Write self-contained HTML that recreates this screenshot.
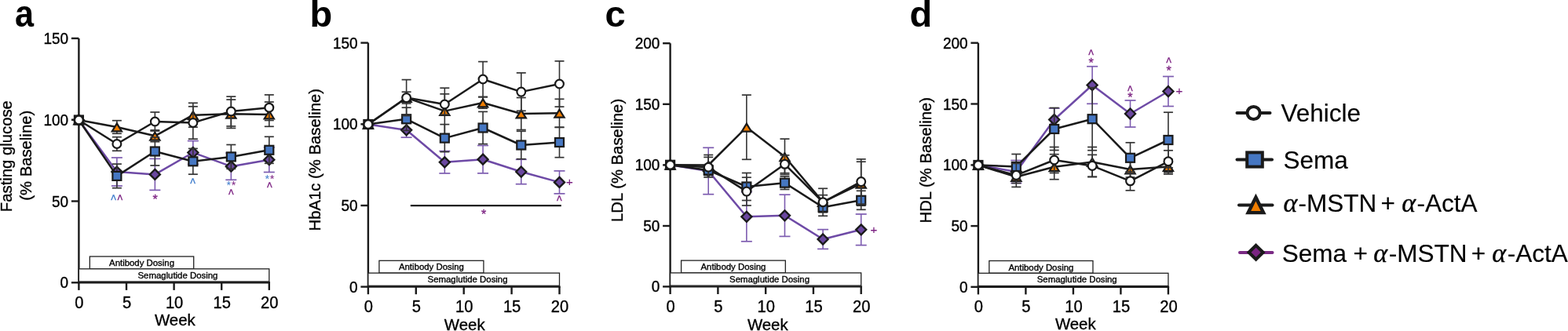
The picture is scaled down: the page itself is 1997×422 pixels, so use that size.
<!DOCTYPE html>
<html><head><meta charset="utf-8"><title>Figure</title>
<style>
html,body{margin:0;padding:0;background:#fff;}
body{width:1997px;height:422px;overflow:hidden;}
svg{display:block;}
text{font-family:"Liberation Sans", Arial, Helvetica, sans-serif;}
text.k{stroke:#000;stroke-width:0.35px;}
text.k2{stroke:#000;stroke-width:0.15px;}
</style></head><body>
<svg width="1997" height="422" viewBox="0 0 1997 422">
<rect width="1997" height="422" fill="#fff"/>
<g fill="#000">
<line x1="100.4" y1="48.9" x2="100.4" y2="360.3" stroke="#1a1a1a" stroke-width="2.4"/>
<line x1="90.9" y1="48.9" x2="100.4" y2="48.9" stroke="#1a1a1a" stroke-width="2.4"/>
<text class="k" transform="translate(87.1,55.9) scale(1,1.07)" text-anchor="end" font-size="19">150</text>
<line x1="90.9" y1="152.7" x2="100.4" y2="152.7" stroke="#1a1a1a" stroke-width="2.4"/>
<text class="k" transform="translate(87.1,159.7) scale(1,1.07)" text-anchor="end" font-size="19">100</text>
<line x1="90.9" y1="256.5" x2="100.4" y2="256.5" stroke="#1a1a1a" stroke-width="2.4"/>
<text class="k" transform="translate(87.1,263.5) scale(1,1.07)" text-anchor="end" font-size="19">50</text>
<line x1="90.9" y1="360.3" x2="100.4" y2="360.3" stroke="#1a1a1a" stroke-width="2.4"/>
<text class="k" transform="translate(87.1,367.3) scale(1,1.07)" text-anchor="end" font-size="19">0</text>
<line x1="99.2" y1="360.3" x2="344" y2="360.3" stroke="#1a1a1a" stroke-width="2.4"/>
<line x1="100.4" y1="360.3" x2="100.4" y2="369.9" stroke="#1a1a1a" stroke-width="2.4"/>
<text class="k" transform="translate(100.9,392.6) scale(0.96,1.08)" text-anchor="middle" font-size="21">0</text>
<line x1="161.0" y1="360.3" x2="161.0" y2="369.9" stroke="#1a1a1a" stroke-width="2.4"/>
<text class="k" transform="translate(161.5,392.6) scale(0.96,1.08)" text-anchor="middle" font-size="21">5</text>
<line x1="221.6" y1="360.3" x2="221.6" y2="369.9" stroke="#1a1a1a" stroke-width="2.4"/>
<text class="k" transform="translate(222.1,392.6) scale(0.96,1.08)" text-anchor="middle" font-size="21">10</text>
<line x1="282.2" y1="360.3" x2="282.2" y2="369.9" stroke="#1a1a1a" stroke-width="2.4"/>
<text class="k" transform="translate(282.7,392.6) scale(0.96,1.08)" text-anchor="middle" font-size="21">15</text>
<line x1="342.8" y1="360.3" x2="342.8" y2="369.9" stroke="#1a1a1a" stroke-width="2.4"/>
<text class="k" transform="translate(343.3,392.6) scale(0.96,1.08)" text-anchor="middle" font-size="21">20</text>
<text class="k" x="222.85" y="415.1" text-anchor="middle" font-size="20.4">Week</text>
<rect x="114.34" y="327.0" width="132.35" height="15.8" fill="#fff" stroke="#222" stroke-width="1.3"/>
<rect x="100.4" y="342.8" width="242.4" height="16.2" fill="#fff" stroke="#222" stroke-width="1.3"/>
<text class="k" x="180.51" y="339.0" text-anchor="middle" font-size="11.4">Antibody Dosing</text>
<text class="k" x="226.45" y="354.6" text-anchor="middle" font-size="11.4">Semaglutide Dosing</text>
<text transform="translate(19.0,34.4) scale(0.9,1)" font-size="48" font-weight="bold">a</text>
<line x1="468.9" y1="54.6" x2="468.9" y2="365.6" stroke="#1a1a1a" stroke-width="2.4"/>
<line x1="459.4" y1="54.6" x2="468.9" y2="54.6" stroke="#1a1a1a" stroke-width="2.4"/>
<text class="k" transform="translate(455.6,61.6) scale(1,1.07)" text-anchor="end" font-size="19">150</text>
<line x1="459.4" y1="158.3" x2="468.9" y2="158.3" stroke="#1a1a1a" stroke-width="2.4"/>
<text class="k" transform="translate(455.6,165.3) scale(1,1.07)" text-anchor="end" font-size="19">100</text>
<line x1="459.4" y1="262.0" x2="468.9" y2="262.0" stroke="#1a1a1a" stroke-width="2.4"/>
<text class="k" transform="translate(455.6,269.0) scale(1,1.07)" text-anchor="end" font-size="19">50</text>
<line x1="459.4" y1="365.6" x2="468.9" y2="365.6" stroke="#1a1a1a" stroke-width="2.4"/>
<text class="k" transform="translate(455.6,372.6) scale(1,1.07)" text-anchor="end" font-size="19">0</text>
<line x1="467.7" y1="365.6" x2="713.7" y2="365.6" stroke="#1a1a1a" stroke-width="2.4"/>
<line x1="468.9" y1="365.6" x2="468.9" y2="375.2" stroke="#1a1a1a" stroke-width="2.4"/>
<text class="k" transform="translate(469.4,397.9) scale(0.96,1.08)" text-anchor="middle" font-size="21">0</text>
<line x1="529.8" y1="365.6" x2="529.8" y2="375.2" stroke="#1a1a1a" stroke-width="2.4"/>
<text class="k" transform="translate(530.3,397.9) scale(0.96,1.08)" text-anchor="middle" font-size="21">5</text>
<line x1="590.7" y1="365.6" x2="590.7" y2="375.2" stroke="#1a1a1a" stroke-width="2.4"/>
<text class="k" transform="translate(591.2,397.9) scale(0.96,1.08)" text-anchor="middle" font-size="21">10</text>
<line x1="651.6" y1="365.6" x2="651.6" y2="375.2" stroke="#1a1a1a" stroke-width="2.4"/>
<text class="k" transform="translate(652.1,397.9) scale(0.96,1.08)" text-anchor="middle" font-size="21">15</text>
<line x1="712.5" y1="365.6" x2="712.5" y2="375.2" stroke="#1a1a1a" stroke-width="2.4"/>
<text class="k" transform="translate(713.0,397.9) scale(0.96,1.08)" text-anchor="middle" font-size="21">20</text>
<text class="k" x="591.75" y="421.0" text-anchor="middle" font-size="20.4">Week</text>
<rect x="482.91" y="332.3" width="133.01" height="15.8" fill="#fff" stroke="#222" stroke-width="1.3"/>
<rect x="468.9" y="348.1" width="243.6" height="16.2" fill="#fff" stroke="#222" stroke-width="1.3"/>
<text class="k" x="549.41" y="344.3" text-anchor="middle" font-size="11.4">Antibody Dosing</text>
<text class="k" x="595.57" y="359.9" text-anchor="middle" font-size="11.4">Semaglutide Dosing</text>
<text x="394.5" y="34.4" font-size="47" font-weight="bold">b</text>
<line x1="853.6" y1="55.2" x2="853.6" y2="365.4" stroke="#1a1a1a" stroke-width="2.4"/>
<line x1="844.1" y1="55.2" x2="853.6" y2="55.2" stroke="#1a1a1a" stroke-width="2.4"/>
<text class="k" transform="translate(840.3,62.2) scale(1,1.07)" text-anchor="end" font-size="19">200</text>
<line x1="844.1" y1="132.8" x2="853.6" y2="132.8" stroke="#1a1a1a" stroke-width="2.4"/>
<text class="k" transform="translate(840.3,139.8) scale(1,1.07)" text-anchor="end" font-size="19">150</text>
<line x1="844.1" y1="210.4" x2="853.6" y2="210.4" stroke="#1a1a1a" stroke-width="2.4"/>
<text class="k" transform="translate(840.3,217.4) scale(1,1.07)" text-anchor="end" font-size="19">100</text>
<line x1="844.1" y1="288.0" x2="853.6" y2="288.0" stroke="#1a1a1a" stroke-width="2.4"/>
<text class="k" transform="translate(840.3,295.0) scale(1,1.07)" text-anchor="end" font-size="19">50</text>
<line x1="844.1" y1="365.4" x2="853.6" y2="365.4" stroke="#1a1a1a" stroke-width="2.4"/>
<text class="k" transform="translate(840.3,372.4) scale(1,1.07)" text-anchor="end" font-size="19">0</text>
<line x1="852.4" y1="365.4" x2="1097.9" y2="365.4" stroke="#1a1a1a" stroke-width="2.4"/>
<line x1="853.6" y1="365.4" x2="853.6" y2="375.0" stroke="#1a1a1a" stroke-width="2.4"/>
<text class="k" transform="translate(854.1,397.7) scale(0.96,1.08)" text-anchor="middle" font-size="21">0</text>
<line x1="914.38" y1="365.4" x2="914.38" y2="375.0" stroke="#1a1a1a" stroke-width="2.4"/>
<text class="k" transform="translate(914.88,397.7) scale(0.96,1.08)" text-anchor="middle" font-size="21">5</text>
<line x1="975.15" y1="365.4" x2="975.15" y2="375.0" stroke="#1a1a1a" stroke-width="2.4"/>
<text class="k" transform="translate(975.65,397.7) scale(0.96,1.08)" text-anchor="middle" font-size="21">10</text>
<line x1="1035.92" y1="365.4" x2="1035.92" y2="375.0" stroke="#1a1a1a" stroke-width="2.4"/>
<text class="k" transform="translate(1036.42,397.7) scale(0.96,1.08)" text-anchor="middle" font-size="21">15</text>
<line x1="1096.7" y1="365.4" x2="1096.7" y2="375.0" stroke="#1a1a1a" stroke-width="2.4"/>
<text class="k" transform="translate(1097.2,397.7) scale(0.96,1.08)" text-anchor="middle" font-size="21">20</text>
<text class="k" x="977.8" y="421.0" text-anchor="middle" font-size="20.4">Week</text>
<rect x="867.58" y="332.1" width="132.73" height="15.8" fill="#fff" stroke="#222" stroke-width="1.3"/>
<rect x="853.6" y="347.9" width="243.1" height="16.2" fill="#fff" stroke="#222" stroke-width="1.3"/>
<text class="k" x="933.94" y="344.1" text-anchor="middle" font-size="11.4">Antibody Dosing</text>
<text class="k" x="980.01" y="359.7" text-anchor="middle" font-size="11.4">Semaglutide Dosing</text>
<text x="770.6" y="34.4" font-size="47" font-weight="bold">c</text>
<line x1="1245.9" y1="54.7" x2="1245.9" y2="365.8" stroke="#1a1a1a" stroke-width="2.4"/>
<line x1="1236.4" y1="54.7" x2="1245.9" y2="54.7" stroke="#1a1a1a" stroke-width="2.4"/>
<text class="k" transform="translate(1232.6,61.7) scale(1,1.07)" text-anchor="end" font-size="19">200</text>
<line x1="1236.4" y1="132.5" x2="1245.9" y2="132.5" stroke="#1a1a1a" stroke-width="2.4"/>
<text class="k" transform="translate(1232.6,139.5) scale(1,1.07)" text-anchor="end" font-size="19">150</text>
<line x1="1236.4" y1="210.4" x2="1245.9" y2="210.4" stroke="#1a1a1a" stroke-width="2.4"/>
<text class="k" transform="translate(1232.6,217.4) scale(1,1.07)" text-anchor="end" font-size="19">100</text>
<line x1="1236.4" y1="288.1" x2="1245.9" y2="288.1" stroke="#1a1a1a" stroke-width="2.4"/>
<text class="k" transform="translate(1232.6,295.1) scale(1,1.07)" text-anchor="end" font-size="19">50</text>
<line x1="1236.4" y1="365.8" x2="1245.9" y2="365.8" stroke="#1a1a1a" stroke-width="2.4"/>
<text class="k" transform="translate(1232.6,372.8) scale(1,1.07)" text-anchor="end" font-size="19">0</text>
<line x1="1244.7" y1="365.8" x2="1489.1" y2="365.8" stroke="#1a1a1a" stroke-width="2.4"/>
<line x1="1245.9" y1="365.8" x2="1245.9" y2="375.4" stroke="#1a1a1a" stroke-width="2.4"/>
<text class="k" transform="translate(1246.4,398.1) scale(0.96,1.08)" text-anchor="middle" font-size="21">0</text>
<line x1="1306.4" y1="365.8" x2="1306.4" y2="375.4" stroke="#1a1a1a" stroke-width="2.4"/>
<text class="k" transform="translate(1306.9,398.1) scale(0.96,1.08)" text-anchor="middle" font-size="21">5</text>
<line x1="1366.9" y1="365.8" x2="1366.9" y2="375.4" stroke="#1a1a1a" stroke-width="2.4"/>
<text class="k" transform="translate(1367.4,398.1) scale(0.96,1.08)" text-anchor="middle" font-size="21">10</text>
<line x1="1427.4" y1="365.8" x2="1427.4" y2="375.4" stroke="#1a1a1a" stroke-width="2.4"/>
<text class="k" transform="translate(1427.9,398.1) scale(0.96,1.08)" text-anchor="middle" font-size="21">15</text>
<line x1="1487.9" y1="365.8" x2="1487.9" y2="375.4" stroke="#1a1a1a" stroke-width="2.4"/>
<text class="k" transform="translate(1488.4,398.1) scale(0.96,1.08)" text-anchor="middle" font-size="21">20</text>
<text class="k" x="1369.8" y="420.2" text-anchor="middle" font-size="20.4">Week</text>
<rect x="1259.82" y="332.5" width="132.13" height="15.8" fill="#fff" stroke="#222" stroke-width="1.3"/>
<rect x="1245.9" y="348.3" width="242.0" height="16.2" fill="#fff" stroke="#222" stroke-width="1.3"/>
<text class="k" x="1325.88" y="344.5" text-anchor="middle" font-size="11.4">Antibody Dosing</text>
<text class="k" x="1371.74" y="360.1" text-anchor="middle" font-size="11.4">Semaglutide Dosing</text>
<text x="1158.4" y="34.4" font-size="47" font-weight="bold">d</text>
<line x1="148.88" y1="201.00" x2="148.88" y2="237.00" stroke="#7d5cb0" stroke-width="1.6"/>
<line x1="141.88" y1="201.00" x2="155.88" y2="201.00" stroke="#7d5cb0" stroke-width="1.7"/>
<line x1="141.88" y1="237.00" x2="155.88" y2="237.00" stroke="#7d5cb0" stroke-width="1.7"/>
<line x1="197.36" y1="202.40" x2="197.36" y2="242.40" stroke="#7d5cb0" stroke-width="1.6"/>
<line x1="190.36" y1="202.40" x2="204.36" y2="202.40" stroke="#7d5cb0" stroke-width="1.7"/>
<line x1="190.36" y1="242.40" x2="204.36" y2="242.40" stroke="#7d5cb0" stroke-width="1.7"/>
<line x1="245.84" y1="179.60" x2="245.84" y2="209.40" stroke="#7d5cb0" stroke-width="1.6"/>
<line x1="238.84" y1="179.60" x2="252.84" y2="179.60" stroke="#7d5cb0" stroke-width="1.7"/>
<line x1="238.84" y1="209.40" x2="252.84" y2="209.40" stroke="#7d5cb0" stroke-width="1.7"/>
<line x1="294.32" y1="195.10" x2="294.32" y2="229.30" stroke="#7d5cb0" stroke-width="1.6"/>
<line x1="287.32" y1="195.10" x2="301.32" y2="195.10" stroke="#7d5cb0" stroke-width="1.7"/>
<line x1="287.32" y1="229.30" x2="301.32" y2="229.30" stroke="#7d5cb0" stroke-width="1.7"/>
<line x1="342.80" y1="187.90" x2="342.80" y2="219.50" stroke="#7d5cb0" stroke-width="1.6"/>
<line x1="335.80" y1="187.90" x2="349.80" y2="187.90" stroke="#7d5cb0" stroke-width="1.7"/>
<line x1="335.80" y1="219.50" x2="349.80" y2="219.50" stroke="#7d5cb0" stroke-width="1.7"/>
<polyline points="100.40,153.00 148.88,219.00 197.36,222.40 245.84,194.50 294.32,212.20 342.80,203.70" fill="none" stroke="#6e4aa6" stroke-width="2.5" stroke-linejoin="round"/>
<polygon points="100.40,146.50 106.90,153.00 100.40,159.50 93.90,153.00" fill="#6b48a0" stroke="#1a1a1a" stroke-width="2.35"/>
<polygon points="148.88,212.50 155.38,219.00 148.88,225.50 142.38,219.00" fill="#6b48a0" stroke="#1a1a1a" stroke-width="2.35"/>
<polygon points="197.36,215.90 203.86,222.40 197.36,228.90 190.86,222.40" fill="#6b48a0" stroke="#1a1a1a" stroke-width="2.35"/>
<polygon points="245.84,188.00 252.34,194.50 245.84,201.00 239.34,194.50" fill="#6b48a0" stroke="#1a1a1a" stroke-width="2.35"/>
<polygon points="294.32,205.70 300.82,212.20 294.32,218.70 287.82,212.20" fill="#6b48a0" stroke="#1a1a1a" stroke-width="2.35"/>
<polygon points="342.80,197.20 349.30,203.70 342.80,210.20 336.30,203.70" fill="#6b48a0" stroke="#1a1a1a" stroke-width="2.35"/>
<line x1="148.88" y1="153.70" x2="148.88" y2="170.30" stroke="#333" stroke-width="1.6"/>
<line x1="142.88" y1="153.70" x2="154.88" y2="153.70" stroke="#333" stroke-width="1.7"/>
<line x1="142.88" y1="170.30" x2="154.88" y2="170.30" stroke="#333" stroke-width="1.7"/>
<line x1="197.36" y1="165.90" x2="197.36" y2="180.70" stroke="#333" stroke-width="1.6"/>
<line x1="191.36" y1="165.90" x2="203.36" y2="165.90" stroke="#333" stroke-width="1.7"/>
<line x1="191.36" y1="180.70" x2="203.36" y2="180.70" stroke="#333" stroke-width="1.7"/>
<line x1="245.84" y1="131.30" x2="245.84" y2="162.10" stroke="#333" stroke-width="1.6"/>
<line x1="239.84" y1="131.30" x2="251.84" y2="131.30" stroke="#333" stroke-width="1.7"/>
<line x1="239.84" y1="162.10" x2="251.84" y2="162.10" stroke="#333" stroke-width="1.7"/>
<line x1="294.32" y1="127.00" x2="294.32" y2="163.40" stroke="#333" stroke-width="1.6"/>
<line x1="288.32" y1="127.00" x2="300.32" y2="127.00" stroke="#333" stroke-width="1.7"/>
<line x1="288.32" y1="163.40" x2="300.32" y2="163.40" stroke="#333" stroke-width="1.7"/>
<line x1="342.80" y1="130.00" x2="342.80" y2="161.30" stroke="#333" stroke-width="1.6"/>
<line x1="336.80" y1="130.00" x2="348.80" y2="130.00" stroke="#333" stroke-width="1.7"/>
<line x1="336.80" y1="161.30" x2="348.80" y2="161.30" stroke="#333" stroke-width="1.7"/>
<polyline points="100.40,153.00 148.88,162.00 197.36,173.30 245.84,146.70 294.32,145.20 342.80,145.90" fill="none" stroke="#1a1a1a" stroke-width="2.5" stroke-linejoin="round"/>
<polygon points="100.40,148.40 106.50,158.40 94.30,158.40" fill="#ef7d00" stroke="#1a1a1a" stroke-width="2.20" stroke-linejoin="miter"/>
<polygon points="148.88,157.40 154.98,167.40 142.78,167.40" fill="#ef7d00" stroke="#1a1a1a" stroke-width="2.20" stroke-linejoin="miter"/>
<polygon points="197.36,168.70 203.46,178.70 191.26,178.70" fill="#ef7d00" stroke="#1a1a1a" stroke-width="2.20" stroke-linejoin="miter"/>
<polygon points="245.84,142.10 251.94,152.10 239.74,152.10" fill="#ef7d00" stroke="#1a1a1a" stroke-width="2.20" stroke-linejoin="miter"/>
<polygon points="294.32,140.60 300.42,150.60 288.22,150.60" fill="#ef7d00" stroke="#1a1a1a" stroke-width="2.20" stroke-linejoin="miter"/>
<polygon points="342.80,141.30 348.90,151.30 336.70,151.30" fill="#ef7d00" stroke="#1a1a1a" stroke-width="2.20" stroke-linejoin="miter"/>
<line x1="148.88" y1="209.10" x2="148.88" y2="239.70" stroke="#333" stroke-width="1.6"/>
<line x1="142.88" y1="209.10" x2="154.88" y2="209.10" stroke="#333" stroke-width="1.7"/>
<line x1="142.88" y1="239.70" x2="154.88" y2="239.70" stroke="#333" stroke-width="1.7"/>
<line x1="197.36" y1="175.00" x2="197.36" y2="211.00" stroke="#333" stroke-width="1.6"/>
<line x1="191.36" y1="175.00" x2="203.36" y2="175.00" stroke="#333" stroke-width="1.7"/>
<line x1="191.36" y1="211.00" x2="203.36" y2="211.00" stroke="#333" stroke-width="1.7"/>
<line x1="245.84" y1="189.40" x2="245.84" y2="222.20" stroke="#333" stroke-width="1.6"/>
<line x1="239.84" y1="189.40" x2="251.84" y2="189.40" stroke="#333" stroke-width="1.7"/>
<line x1="239.84" y1="222.20" x2="251.84" y2="222.20" stroke="#333" stroke-width="1.7"/>
<line x1="294.32" y1="184.50" x2="294.32" y2="215.30" stroke="#333" stroke-width="1.6"/>
<line x1="288.32" y1="184.50" x2="300.32" y2="184.50" stroke="#333" stroke-width="1.7"/>
<line x1="288.32" y1="215.30" x2="300.32" y2="215.30" stroke="#333" stroke-width="1.7"/>
<line x1="342.80" y1="174.30" x2="342.80" y2="208.30" stroke="#333" stroke-width="1.6"/>
<line x1="336.80" y1="174.30" x2="348.80" y2="174.30" stroke="#333" stroke-width="1.7"/>
<line x1="336.80" y1="208.30" x2="348.80" y2="208.30" stroke="#333" stroke-width="1.7"/>
<polyline points="100.40,153.00 148.88,224.40 197.36,193.00 245.84,205.80 294.32,199.90 342.80,191.30" fill="none" stroke="#1a1a1a" stroke-width="2.5" stroke-linejoin="round"/>
<rect x="94.90" y="147.50" width="11.00" height="11.00" fill="#4677c2" stroke="#1a1a1a" stroke-width="2.20"/>
<rect x="143.38" y="218.90" width="11.00" height="11.00" fill="#4677c2" stroke="#1a1a1a" stroke-width="2.20"/>
<rect x="191.86" y="187.50" width="11.00" height="11.00" fill="#4677c2" stroke="#1a1a1a" stroke-width="2.20"/>
<rect x="240.34" y="200.30" width="11.00" height="11.00" fill="#4677c2" stroke="#1a1a1a" stroke-width="2.20"/>
<rect x="288.82" y="194.40" width="11.00" height="11.00" fill="#4677c2" stroke="#1a1a1a" stroke-width="2.20"/>
<rect x="337.30" y="185.80" width="11.00" height="11.00" fill="#4677c2" stroke="#1a1a1a" stroke-width="2.20"/>
<line x1="148.88" y1="174.70" x2="148.88" y2="192.30" stroke="#333" stroke-width="1.6"/>
<line x1="142.88" y1="174.70" x2="154.88" y2="174.70" stroke="#333" stroke-width="1.7"/>
<line x1="142.88" y1="192.30" x2="154.88" y2="192.30" stroke="#333" stroke-width="1.7"/>
<line x1="197.36" y1="143.00" x2="197.36" y2="167.00" stroke="#333" stroke-width="1.6"/>
<line x1="191.36" y1="143.00" x2="203.36" y2="143.00" stroke="#333" stroke-width="1.7"/>
<line x1="191.36" y1="167.00" x2="203.36" y2="167.00" stroke="#333" stroke-width="1.7"/>
<line x1="245.84" y1="135.80" x2="245.84" y2="177.20" stroke="#333" stroke-width="1.6"/>
<line x1="239.84" y1="135.80" x2="251.84" y2="135.80" stroke="#333" stroke-width="1.7"/>
<line x1="239.84" y1="177.20" x2="251.84" y2="177.20" stroke="#333" stroke-width="1.7"/>
<line x1="294.32" y1="123.10" x2="294.32" y2="160.90" stroke="#333" stroke-width="1.6"/>
<line x1="288.32" y1="123.10" x2="300.32" y2="123.10" stroke="#333" stroke-width="1.7"/>
<line x1="288.32" y1="160.90" x2="300.32" y2="160.90" stroke="#333" stroke-width="1.7"/>
<line x1="342.80" y1="120.90" x2="342.80" y2="153.50" stroke="#333" stroke-width="1.6"/>
<line x1="336.80" y1="120.90" x2="348.80" y2="120.90" stroke="#333" stroke-width="1.7"/>
<line x1="336.80" y1="153.50" x2="348.80" y2="153.50" stroke="#333" stroke-width="1.7"/>
<polyline points="100.40,153.00 148.88,183.50 197.36,155.00 245.84,156.50 294.32,142.00 342.80,137.20" fill="none" stroke="#1a1a1a" stroke-width="2.5" stroke-linejoin="round"/>
<circle cx="100.40" cy="153.00" r="5.40" fill="#fff" stroke="#1a1a1a" stroke-width="2.20"/>
<circle cx="148.88" cy="183.50" r="5.40" fill="#fff" stroke="#1a1a1a" stroke-width="2.20"/>
<circle cx="197.36" cy="155.00" r="5.40" fill="#fff" stroke="#1a1a1a" stroke-width="2.20"/>
<circle cx="245.84" cy="156.50" r="5.40" fill="#fff" stroke="#1a1a1a" stroke-width="2.20"/>
<circle cx="294.32" cy="142.00" r="5.40" fill="#fff" stroke="#1a1a1a" stroke-width="2.20"/>
<circle cx="342.80" cy="137.20" r="5.40" fill="#fff" stroke="#1a1a1a" stroke-width="2.20"/>
<line x1="517.62" y1="156.40" x2="517.62" y2="175.20" stroke="#7d5cb0" stroke-width="1.6"/>
<line x1="510.62" y1="156.40" x2="524.62" y2="156.40" stroke="#7d5cb0" stroke-width="1.7"/>
<line x1="510.62" y1="175.20" x2="524.62" y2="175.20" stroke="#7d5cb0" stroke-width="1.7"/>
<line x1="566.34" y1="192.60" x2="566.34" y2="221.00" stroke="#7d5cb0" stroke-width="1.6"/>
<line x1="559.34" y1="192.60" x2="573.34" y2="192.60" stroke="#7d5cb0" stroke-width="1.7"/>
<line x1="559.34" y1="221.00" x2="573.34" y2="221.00" stroke="#7d5cb0" stroke-width="1.7"/>
<line x1="615.06" y1="185.50" x2="615.06" y2="220.90" stroke="#7d5cb0" stroke-width="1.6"/>
<line x1="608.06" y1="185.50" x2="622.06" y2="185.50" stroke="#7d5cb0" stroke-width="1.7"/>
<line x1="608.06" y1="220.90" x2="622.06" y2="220.90" stroke="#7d5cb0" stroke-width="1.7"/>
<line x1="663.78" y1="203.30" x2="663.78" y2="234.70" stroke="#7d5cb0" stroke-width="1.6"/>
<line x1="656.78" y1="203.30" x2="670.78" y2="203.30" stroke="#7d5cb0" stroke-width="1.7"/>
<line x1="656.78" y1="234.70" x2="670.78" y2="234.70" stroke="#7d5cb0" stroke-width="1.7"/>
<line x1="712.50" y1="217.90" x2="712.50" y2="246.90" stroke="#7d5cb0" stroke-width="1.6"/>
<line x1="705.50" y1="217.90" x2="719.50" y2="217.90" stroke="#7d5cb0" stroke-width="1.7"/>
<line x1="705.50" y1="246.90" x2="719.50" y2="246.90" stroke="#7d5cb0" stroke-width="1.7"/>
<polyline points="468.90,158.50 517.62,165.80 566.34,206.80 615.06,203.20 663.78,219.00 712.50,232.40" fill="none" stroke="#6e4aa6" stroke-width="2.5" stroke-linejoin="round"/>
<polygon points="468.90,152.00 475.40,158.50 468.90,165.00 462.40,158.50" fill="#6b48a0" stroke="#1a1a1a" stroke-width="2.35"/>
<polygon points="517.62,159.30 524.12,165.80 517.62,172.30 511.12,165.80" fill="#6b48a0" stroke="#1a1a1a" stroke-width="2.35"/>
<polygon points="566.34,200.30 572.84,206.80 566.34,213.30 559.84,206.80" fill="#6b48a0" stroke="#1a1a1a" stroke-width="2.35"/>
<polygon points="615.06,196.70 621.56,203.20 615.06,209.70 608.56,203.20" fill="#6b48a0" stroke="#1a1a1a" stroke-width="2.35"/>
<polygon points="663.78,212.50 670.28,219.00 663.78,225.50 657.28,219.00" fill="#6b48a0" stroke="#1a1a1a" stroke-width="2.35"/>
<polygon points="712.50,225.90 719.00,232.40 712.50,238.90 706.00,232.40" fill="#6b48a0" stroke="#1a1a1a" stroke-width="2.35"/>
<line x1="517.62" y1="117.20" x2="517.62" y2="132.00" stroke="#333" stroke-width="1.6"/>
<line x1="511.62" y1="117.20" x2="523.62" y2="117.20" stroke="#333" stroke-width="1.7"/>
<line x1="511.62" y1="132.00" x2="523.62" y2="132.00" stroke="#333" stroke-width="1.7"/>
<line x1="566.34" y1="112.20" x2="566.34" y2="171.00" stroke="#333" stroke-width="1.6"/>
<line x1="560.34" y1="112.20" x2="572.34" y2="112.20" stroke="#333" stroke-width="1.7"/>
<line x1="560.34" y1="171.00" x2="572.34" y2="171.00" stroke="#333" stroke-width="1.7"/>
<line x1="615.06" y1="123.80" x2="615.06" y2="138.20" stroke="#333" stroke-width="1.6"/>
<line x1="609.06" y1="123.80" x2="621.06" y2="123.80" stroke="#333" stroke-width="1.7"/>
<line x1="609.06" y1="138.20" x2="621.06" y2="138.20" stroke="#333" stroke-width="1.7"/>
<line x1="663.78" y1="124.50" x2="663.78" y2="165.50" stroke="#333" stroke-width="1.6"/>
<line x1="657.78" y1="124.50" x2="669.78" y2="124.50" stroke="#333" stroke-width="1.7"/>
<line x1="657.78" y1="165.50" x2="669.78" y2="165.50" stroke="#333" stroke-width="1.7"/>
<line x1="712.50" y1="126.30" x2="712.50" y2="162.30" stroke="#333" stroke-width="1.6"/>
<line x1="706.50" y1="126.30" x2="718.50" y2="126.30" stroke="#333" stroke-width="1.7"/>
<line x1="706.50" y1="162.30" x2="718.50" y2="162.30" stroke="#333" stroke-width="1.7"/>
<polyline points="468.90,158.50 517.62,124.60 566.34,141.60 615.06,131.00 663.78,145.00 712.50,144.30" fill="none" stroke="#1a1a1a" stroke-width="2.5" stroke-linejoin="round"/>
<polygon points="468.90,153.90 475.00,163.90 462.80,163.90" fill="#ef7d00" stroke="#1a1a1a" stroke-width="2.20" stroke-linejoin="miter"/>
<polygon points="517.62,120.00 523.72,130.00 511.52,130.00" fill="#ef7d00" stroke="#1a1a1a" stroke-width="2.20" stroke-linejoin="miter"/>
<polygon points="566.34,137.00 572.44,147.00 560.24,147.00" fill="#ef7d00" stroke="#1a1a1a" stroke-width="2.20" stroke-linejoin="miter"/>
<polygon points="615.06,126.40 621.16,136.40 608.96,136.40" fill="#ef7d00" stroke="#1a1a1a" stroke-width="2.20" stroke-linejoin="miter"/>
<polygon points="663.78,140.40 669.88,150.40 657.68,150.40" fill="#ef7d00" stroke="#1a1a1a" stroke-width="2.20" stroke-linejoin="miter"/>
<polygon points="712.50,139.70 718.60,149.70 706.40,149.70" fill="#ef7d00" stroke="#1a1a1a" stroke-width="2.20" stroke-linejoin="miter"/>
<line x1="517.62" y1="137.20" x2="517.62" y2="166.40" stroke="#333" stroke-width="1.6"/>
<line x1="511.62" y1="137.20" x2="523.62" y2="137.20" stroke="#333" stroke-width="1.7"/>
<line x1="511.62" y1="166.40" x2="523.62" y2="166.40" stroke="#333" stroke-width="1.7"/>
<line x1="566.34" y1="158.60" x2="566.34" y2="193.60" stroke="#333" stroke-width="1.6"/>
<line x1="560.34" y1="158.60" x2="572.34" y2="158.60" stroke="#333" stroke-width="1.7"/>
<line x1="560.34" y1="193.60" x2="572.34" y2="193.60" stroke="#333" stroke-width="1.7"/>
<line x1="615.06" y1="142.40" x2="615.06" y2="183.60" stroke="#333" stroke-width="1.6"/>
<line x1="609.06" y1="142.40" x2="621.06" y2="142.40" stroke="#333" stroke-width="1.7"/>
<line x1="609.06" y1="183.60" x2="621.06" y2="183.60" stroke="#333" stroke-width="1.7"/>
<line x1="663.78" y1="167.30" x2="663.78" y2="202.70" stroke="#333" stroke-width="1.6"/>
<line x1="657.78" y1="167.30" x2="669.78" y2="167.30" stroke="#333" stroke-width="1.7"/>
<line x1="657.78" y1="202.70" x2="669.78" y2="202.70" stroke="#333" stroke-width="1.7"/>
<line x1="712.50" y1="162.30" x2="712.50" y2="200.70" stroke="#333" stroke-width="1.6"/>
<line x1="706.50" y1="162.30" x2="718.50" y2="162.30" stroke="#333" stroke-width="1.7"/>
<line x1="706.50" y1="200.70" x2="718.50" y2="200.70" stroke="#333" stroke-width="1.7"/>
<polyline points="468.90,158.50 517.62,151.80 566.34,176.10 615.06,163.00 663.78,185.00 712.50,181.50" fill="none" stroke="#1a1a1a" stroke-width="2.5" stroke-linejoin="round"/>
<rect x="463.40" y="153.00" width="11.00" height="11.00" fill="#4677c2" stroke="#1a1a1a" stroke-width="2.20"/>
<rect x="512.12" y="146.30" width="11.00" height="11.00" fill="#4677c2" stroke="#1a1a1a" stroke-width="2.20"/>
<rect x="560.84" y="170.60" width="11.00" height="11.00" fill="#4677c2" stroke="#1a1a1a" stroke-width="2.20"/>
<rect x="609.56" y="157.50" width="11.00" height="11.00" fill="#4677c2" stroke="#1a1a1a" stroke-width="2.20"/>
<rect x="658.28" y="179.50" width="11.00" height="11.00" fill="#4677c2" stroke="#1a1a1a" stroke-width="2.20"/>
<rect x="707.00" y="176.00" width="11.00" height="11.00" fill="#4677c2" stroke="#1a1a1a" stroke-width="2.20"/>
<line x1="517.62" y1="101.60" x2="517.62" y2="147.60" stroke="#333" stroke-width="1.6"/>
<line x1="511.62" y1="101.60" x2="523.62" y2="101.60" stroke="#333" stroke-width="1.7"/>
<line x1="511.62" y1="147.60" x2="523.62" y2="147.60" stroke="#333" stroke-width="1.7"/>
<line x1="566.34" y1="119.80" x2="566.34" y2="146.20" stroke="#333" stroke-width="1.6"/>
<line x1="560.34" y1="119.80" x2="572.34" y2="119.80" stroke="#333" stroke-width="1.7"/>
<line x1="560.34" y1="146.20" x2="572.34" y2="146.20" stroke="#333" stroke-width="1.7"/>
<line x1="615.06" y1="78.60" x2="615.06" y2="123.40" stroke="#333" stroke-width="1.6"/>
<line x1="609.06" y1="78.60" x2="621.06" y2="78.60" stroke="#333" stroke-width="1.7"/>
<line x1="609.06" y1="123.40" x2="621.06" y2="123.40" stroke="#333" stroke-width="1.7"/>
<line x1="663.78" y1="92.90" x2="663.78" y2="141.30" stroke="#333" stroke-width="1.6"/>
<line x1="657.78" y1="92.90" x2="669.78" y2="92.90" stroke="#333" stroke-width="1.7"/>
<line x1="657.78" y1="141.30" x2="669.78" y2="141.30" stroke="#333" stroke-width="1.7"/>
<line x1="712.50" y1="77.90" x2="712.50" y2="136.10" stroke="#333" stroke-width="1.6"/>
<line x1="706.50" y1="77.90" x2="718.50" y2="77.90" stroke="#333" stroke-width="1.7"/>
<line x1="706.50" y1="136.10" x2="718.50" y2="136.10" stroke="#333" stroke-width="1.7"/>
<polyline points="468.90,158.50 517.62,124.60 566.34,133.00 615.06,101.00 663.78,117.10 712.50,107.00" fill="none" stroke="#1a1a1a" stroke-width="2.5" stroke-linejoin="round"/>
<circle cx="468.90" cy="158.50" r="5.40" fill="#fff" stroke="#1a1a1a" stroke-width="2.20"/>
<circle cx="517.62" cy="124.60" r="5.40" fill="#fff" stroke="#1a1a1a" stroke-width="2.20"/>
<circle cx="566.34" cy="133.00" r="5.40" fill="#fff" stroke="#1a1a1a" stroke-width="2.20"/>
<circle cx="615.06" cy="101.00" r="5.40" fill="#fff" stroke="#1a1a1a" stroke-width="2.20"/>
<circle cx="663.78" cy="117.10" r="5.40" fill="#fff" stroke="#1a1a1a" stroke-width="2.20"/>
<circle cx="712.50" cy="107.00" r="5.40" fill="#fff" stroke="#1a1a1a" stroke-width="2.20"/>
<line x1="902.22" y1="188.30" x2="902.22" y2="247.70" stroke="#7d5cb0" stroke-width="1.6"/>
<line x1="895.22" y1="188.30" x2="909.22" y2="188.30" stroke="#7d5cb0" stroke-width="1.7"/>
<line x1="895.22" y1="247.70" x2="909.22" y2="247.70" stroke="#7d5cb0" stroke-width="1.7"/>
<line x1="950.84" y1="244.80" x2="950.84" y2="307.80" stroke="#7d5cb0" stroke-width="1.6"/>
<line x1="943.84" y1="244.80" x2="957.84" y2="244.80" stroke="#7d5cb0" stroke-width="1.7"/>
<line x1="943.84" y1="307.80" x2="957.84" y2="307.80" stroke="#7d5cb0" stroke-width="1.7"/>
<line x1="999.46" y1="248.20" x2="999.46" y2="301.40" stroke="#7d5cb0" stroke-width="1.6"/>
<line x1="992.46" y1="248.20" x2="1006.46" y2="248.20" stroke="#7d5cb0" stroke-width="1.7"/>
<line x1="992.46" y1="301.40" x2="1006.46" y2="301.40" stroke="#7d5cb0" stroke-width="1.7"/>
<line x1="1048.08" y1="292.60" x2="1048.08" y2="317.40" stroke="#7d5cb0" stroke-width="1.6"/>
<line x1="1041.08" y1="292.60" x2="1055.08" y2="292.60" stroke="#7d5cb0" stroke-width="1.7"/>
<line x1="1041.08" y1="317.40" x2="1055.08" y2="317.40" stroke="#7d5cb0" stroke-width="1.7"/>
<line x1="1096.70" y1="273.00" x2="1096.70" y2="312.60" stroke="#7d5cb0" stroke-width="1.6"/>
<line x1="1089.70" y1="273.00" x2="1103.70" y2="273.00" stroke="#7d5cb0" stroke-width="1.7"/>
<line x1="1089.70" y1="312.60" x2="1103.70" y2="312.60" stroke="#7d5cb0" stroke-width="1.7"/>
<polyline points="853.60,210.30 902.22,218.00 950.84,276.30 999.46,274.80 1048.08,305.00 1096.70,292.80" fill="none" stroke="#6e4aa6" stroke-width="2.5" stroke-linejoin="round"/>
<polygon points="853.60,203.80 860.10,210.30 853.60,216.80 847.10,210.30" fill="#6b48a0" stroke="#1a1a1a" stroke-width="2.35"/>
<polygon points="902.22,211.50 908.72,218.00 902.22,224.50 895.72,218.00" fill="#6b48a0" stroke="#1a1a1a" stroke-width="2.35"/>
<polygon points="950.84,269.80 957.34,276.30 950.84,282.80 944.34,276.30" fill="#6b48a0" stroke="#1a1a1a" stroke-width="2.35"/>
<polygon points="999.46,268.30 1005.96,274.80 999.46,281.30 992.96,274.80" fill="#6b48a0" stroke="#1a1a1a" stroke-width="2.35"/>
<polygon points="1048.08,298.50 1054.58,305.00 1048.08,311.50 1041.58,305.00" fill="#6b48a0" stroke="#1a1a1a" stroke-width="2.35"/>
<polygon points="1096.70,286.30 1103.20,292.80 1096.70,299.30 1090.20,292.80" fill="#6b48a0" stroke="#1a1a1a" stroke-width="2.35"/>
<line x1="902.22" y1="197.50" x2="902.22" y2="223.50" stroke="#333" stroke-width="1.6"/>
<line x1="896.22" y1="197.50" x2="908.22" y2="197.50" stroke="#333" stroke-width="1.7"/>
<line x1="896.22" y1="223.50" x2="908.22" y2="223.50" stroke="#333" stroke-width="1.7"/>
<line x1="950.84" y1="121.10" x2="950.84" y2="203.30" stroke="#333" stroke-width="1.6"/>
<line x1="944.84" y1="121.10" x2="956.84" y2="121.10" stroke="#333" stroke-width="1.7"/>
<line x1="944.84" y1="203.30" x2="956.84" y2="203.30" stroke="#333" stroke-width="1.7"/>
<line x1="999.46" y1="177.10" x2="999.46" y2="222.50" stroke="#333" stroke-width="1.6"/>
<line x1="993.46" y1="177.10" x2="1005.46" y2="177.10" stroke="#333" stroke-width="1.7"/>
<line x1="993.46" y1="222.50" x2="1005.46" y2="222.50" stroke="#333" stroke-width="1.7"/>
<line x1="1048.08" y1="248.70" x2="1048.08" y2="266.30" stroke="#333" stroke-width="1.6"/>
<line x1="1042.08" y1="248.70" x2="1054.08" y2="248.70" stroke="#333" stroke-width="1.7"/>
<line x1="1042.08" y1="266.30" x2="1054.08" y2="266.30" stroke="#333" stroke-width="1.7"/>
<line x1="1096.70" y1="206.20" x2="1096.70" y2="262.20" stroke="#333" stroke-width="1.6"/>
<line x1="1090.70" y1="206.20" x2="1102.70" y2="206.20" stroke="#333" stroke-width="1.7"/>
<line x1="1090.70" y1="262.20" x2="1102.70" y2="262.20" stroke="#333" stroke-width="1.7"/>
<polyline points="853.60,210.30 902.22,210.50 950.84,162.20 999.46,199.80 1048.08,257.50 1096.70,234.20" fill="none" stroke="#1a1a1a" stroke-width="2.5" stroke-linejoin="round"/>
<polygon points="853.60,205.70 859.70,215.70 847.50,215.70" fill="#ef7d00" stroke="#1a1a1a" stroke-width="2.20" stroke-linejoin="miter"/>
<polygon points="902.22,205.90 908.32,215.90 896.12,215.90" fill="#ef7d00" stroke="#1a1a1a" stroke-width="2.20" stroke-linejoin="miter"/>
<polygon points="950.84,157.60 956.94,167.60 944.74,167.60" fill="#ef7d00" stroke="#1a1a1a" stroke-width="2.20" stroke-linejoin="miter"/>
<polygon points="999.46,195.20 1005.56,205.20 993.36,205.20" fill="#ef7d00" stroke="#1a1a1a" stroke-width="2.20" stroke-linejoin="miter"/>
<polygon points="1048.08,252.90 1054.18,262.90 1041.98,262.90" fill="#ef7d00" stroke="#1a1a1a" stroke-width="2.20" stroke-linejoin="miter"/>
<polygon points="1096.70,229.60 1102.80,239.60 1090.60,239.60" fill="#ef7d00" stroke="#1a1a1a" stroke-width="2.20" stroke-linejoin="miter"/>
<line x1="902.22" y1="211.00" x2="902.22" y2="223.00" stroke="#333" stroke-width="1.6"/>
<line x1="896.22" y1="211.00" x2="908.22" y2="211.00" stroke="#333" stroke-width="1.7"/>
<line x1="896.22" y1="223.00" x2="908.22" y2="223.00" stroke="#333" stroke-width="1.7"/>
<line x1="950.84" y1="220.50" x2="950.84" y2="255.50" stroke="#333" stroke-width="1.6"/>
<line x1="944.84" y1="220.50" x2="956.84" y2="220.50" stroke="#333" stroke-width="1.7"/>
<line x1="944.84" y1="255.50" x2="956.84" y2="255.50" stroke="#333" stroke-width="1.7"/>
<line x1="999.46" y1="224.90" x2="999.46" y2="241.50" stroke="#333" stroke-width="1.6"/>
<line x1="993.46" y1="224.90" x2="1005.46" y2="224.90" stroke="#333" stroke-width="1.7"/>
<line x1="993.46" y1="241.50" x2="1005.46" y2="241.50" stroke="#333" stroke-width="1.7"/>
<line x1="1048.08" y1="257.80" x2="1048.08" y2="270.80" stroke="#333" stroke-width="1.6"/>
<line x1="1042.08" y1="257.80" x2="1054.08" y2="257.80" stroke="#333" stroke-width="1.7"/>
<line x1="1042.08" y1="270.80" x2="1054.08" y2="270.80" stroke="#333" stroke-width="1.7"/>
<line x1="1096.70" y1="243.30" x2="1096.70" y2="267.30" stroke="#333" stroke-width="1.6"/>
<line x1="1090.70" y1="243.30" x2="1102.70" y2="243.30" stroke="#333" stroke-width="1.7"/>
<line x1="1090.70" y1="267.30" x2="1102.70" y2="267.30" stroke="#333" stroke-width="1.7"/>
<polyline points="853.60,210.30 902.22,217.00 950.84,238.00 999.46,233.20 1048.08,264.30 1096.70,255.30" fill="none" stroke="#1a1a1a" stroke-width="2.5" stroke-linejoin="round"/>
<rect x="848.10" y="204.80" width="11.00" height="11.00" fill="#4677c2" stroke="#1a1a1a" stroke-width="2.20"/>
<rect x="896.72" y="211.50" width="11.00" height="11.00" fill="#4677c2" stroke="#1a1a1a" stroke-width="2.20"/>
<rect x="945.34" y="232.50" width="11.00" height="11.00" fill="#4677c2" stroke="#1a1a1a" stroke-width="2.20"/>
<rect x="993.96" y="227.70" width="11.00" height="11.00" fill="#4677c2" stroke="#1a1a1a" stroke-width="2.20"/>
<rect x="1042.58" y="258.80" width="11.00" height="11.00" fill="#4677c2" stroke="#1a1a1a" stroke-width="2.20"/>
<rect x="1091.20" y="249.80" width="11.00" height="11.00" fill="#4677c2" stroke="#1a1a1a" stroke-width="2.20"/>
<line x1="902.22" y1="200.40" x2="902.22" y2="226.00" stroke="#333" stroke-width="1.6"/>
<line x1="896.22" y1="200.40" x2="908.22" y2="200.40" stroke="#333" stroke-width="1.7"/>
<line x1="896.22" y1="226.00" x2="908.22" y2="226.00" stroke="#333" stroke-width="1.7"/>
<line x1="950.84" y1="226.20" x2="950.84" y2="262.00" stroke="#333" stroke-width="1.6"/>
<line x1="944.84" y1="226.20" x2="956.84" y2="226.20" stroke="#333" stroke-width="1.7"/>
<line x1="944.84" y1="262.00" x2="956.84" y2="262.00" stroke="#333" stroke-width="1.7"/>
<line x1="999.46" y1="197.90" x2="999.46" y2="220.70" stroke="#333" stroke-width="1.6"/>
<line x1="993.46" y1="197.90" x2="1005.46" y2="197.90" stroke="#333" stroke-width="1.7"/>
<line x1="993.46" y1="220.70" x2="1005.46" y2="220.70" stroke="#333" stroke-width="1.7"/>
<line x1="1048.08" y1="240.30" x2="1048.08" y2="275.30" stroke="#333" stroke-width="1.6"/>
<line x1="1042.08" y1="240.30" x2="1054.08" y2="240.30" stroke="#333" stroke-width="1.7"/>
<line x1="1042.08" y1="275.30" x2="1054.08" y2="275.30" stroke="#333" stroke-width="1.7"/>
<line x1="1096.70" y1="202.90" x2="1096.70" y2="260.30" stroke="#333" stroke-width="1.6"/>
<line x1="1090.70" y1="202.90" x2="1102.70" y2="202.90" stroke="#333" stroke-width="1.7"/>
<line x1="1090.70" y1="260.30" x2="1102.70" y2="260.30" stroke="#333" stroke-width="1.7"/>
<polyline points="853.60,210.30 902.22,213.20 950.84,244.10 999.46,209.30 1048.08,257.80 1096.70,231.60" fill="none" stroke="#1a1a1a" stroke-width="2.5" stroke-linejoin="round"/>
<circle cx="853.60" cy="210.30" r="5.40" fill="#fff" stroke="#1a1a1a" stroke-width="2.20"/>
<circle cx="902.22" cy="213.20" r="5.40" fill="#fff" stroke="#1a1a1a" stroke-width="2.20"/>
<circle cx="950.84" cy="244.10" r="5.40" fill="#fff" stroke="#1a1a1a" stroke-width="2.20"/>
<circle cx="999.46" cy="209.30" r="5.40" fill="#fff" stroke="#1a1a1a" stroke-width="2.20"/>
<circle cx="1048.08" cy="257.80" r="5.40" fill="#fff" stroke="#1a1a1a" stroke-width="2.20"/>
<circle cx="1096.70" cy="231.60" r="5.40" fill="#fff" stroke="#1a1a1a" stroke-width="2.20"/>
<line x1="1294.30" y1="204.50" x2="1294.30" y2="233.50" stroke="#7d5cb0" stroke-width="1.6"/>
<line x1="1287.30" y1="204.50" x2="1301.30" y2="204.50" stroke="#7d5cb0" stroke-width="1.7"/>
<line x1="1287.30" y1="233.50" x2="1301.30" y2="233.50" stroke="#7d5cb0" stroke-width="1.7"/>
<line x1="1342.70" y1="138.00" x2="1342.70" y2="167.00" stroke="#7d5cb0" stroke-width="1.6"/>
<line x1="1335.70" y1="138.00" x2="1349.70" y2="138.00" stroke="#7d5cb0" stroke-width="1.7"/>
<line x1="1335.70" y1="167.00" x2="1349.70" y2="167.00" stroke="#7d5cb0" stroke-width="1.7"/>
<line x1="1391.10" y1="84.70" x2="1391.10" y2="132.30" stroke="#7d5cb0" stroke-width="1.6"/>
<line x1="1384.10" y1="84.70" x2="1398.10" y2="84.70" stroke="#7d5cb0" stroke-width="1.7"/>
<line x1="1384.10" y1="132.30" x2="1398.10" y2="132.30" stroke="#7d5cb0" stroke-width="1.7"/>
<line x1="1439.50" y1="128.00" x2="1439.50" y2="162.00" stroke="#7d5cb0" stroke-width="1.6"/>
<line x1="1432.50" y1="128.00" x2="1446.50" y2="128.00" stroke="#7d5cb0" stroke-width="1.7"/>
<line x1="1432.50" y1="162.00" x2="1446.50" y2="162.00" stroke="#7d5cb0" stroke-width="1.7"/>
<line x1="1487.90" y1="97.50" x2="1487.90" y2="135.50" stroke="#7d5cb0" stroke-width="1.6"/>
<line x1="1480.90" y1="97.50" x2="1494.90" y2="97.50" stroke="#7d5cb0" stroke-width="1.7"/>
<line x1="1480.90" y1="135.50" x2="1494.90" y2="135.50" stroke="#7d5cb0" stroke-width="1.7"/>
<polyline points="1245.90,210.50 1294.30,219.00 1342.70,152.50 1391.10,108.50 1439.50,145.00 1487.90,116.50" fill="none" stroke="#6e4aa6" stroke-width="2.5" stroke-linejoin="round"/>
<polygon points="1245.90,204.00 1252.40,210.50 1245.90,217.00 1239.40,210.50" fill="#6b48a0" stroke="#1a1a1a" stroke-width="2.35"/>
<polygon points="1294.30,212.50 1300.80,219.00 1294.30,225.50 1287.80,219.00" fill="#6b48a0" stroke="#1a1a1a" stroke-width="2.35"/>
<polygon points="1342.70,146.00 1349.20,152.50 1342.70,159.00 1336.20,152.50" fill="#6b48a0" stroke="#1a1a1a" stroke-width="2.35"/>
<polygon points="1391.10,102.00 1397.60,108.50 1391.10,115.00 1384.60,108.50" fill="#6b48a0" stroke="#1a1a1a" stroke-width="2.35"/>
<polygon points="1439.50,138.50 1446.00,145.00 1439.50,151.50 1433.00,145.00" fill="#6b48a0" stroke="#1a1a1a" stroke-width="2.35"/>
<polygon points="1487.90,110.00 1494.40,116.50 1487.90,123.00 1481.40,116.50" fill="#6b48a0" stroke="#1a1a1a" stroke-width="2.35"/>
<line x1="1294.30" y1="217.50" x2="1294.30" y2="233.50" stroke="#333" stroke-width="1.6"/>
<line x1="1288.30" y1="217.50" x2="1300.30" y2="217.50" stroke="#333" stroke-width="1.7"/>
<line x1="1288.30" y1="233.50" x2="1300.30" y2="233.50" stroke="#333" stroke-width="1.7"/>
<line x1="1342.70" y1="196.70" x2="1342.70" y2="228.70" stroke="#333" stroke-width="1.6"/>
<line x1="1336.70" y1="196.70" x2="1348.70" y2="196.70" stroke="#333" stroke-width="1.7"/>
<line x1="1336.70" y1="228.70" x2="1348.70" y2="228.70" stroke="#333" stroke-width="1.7"/>
<line x1="1391.10" y1="187.50" x2="1391.10" y2="225.50" stroke="#333" stroke-width="1.6"/>
<line x1="1385.10" y1="187.50" x2="1397.10" y2="187.50" stroke="#333" stroke-width="1.7"/>
<line x1="1385.10" y1="225.50" x2="1397.10" y2="225.50" stroke="#333" stroke-width="1.7"/>
<line x1="1439.50" y1="206.00" x2="1439.50" y2="226.00" stroke="#333" stroke-width="1.6"/>
<line x1="1433.50" y1="206.00" x2="1445.50" y2="206.00" stroke="#333" stroke-width="1.7"/>
<line x1="1433.50" y1="226.00" x2="1445.50" y2="226.00" stroke="#333" stroke-width="1.7"/>
<line x1="1487.90" y1="203.00" x2="1487.90" y2="222.00" stroke="#333" stroke-width="1.6"/>
<line x1="1481.90" y1="203.00" x2="1493.90" y2="203.00" stroke="#333" stroke-width="1.7"/>
<line x1="1481.90" y1="222.00" x2="1493.90" y2="222.00" stroke="#333" stroke-width="1.7"/>
<polyline points="1245.90,210.50 1294.30,225.50 1342.70,212.70 1391.10,206.50 1439.50,216.00 1487.90,212.50" fill="none" stroke="#1a1a1a" stroke-width="2.5" stroke-linejoin="round"/>
<polygon points="1245.90,205.90 1252.00,215.90 1239.80,215.90" fill="#ef7d00" stroke="#1a1a1a" stroke-width="2.20" stroke-linejoin="miter"/>
<polygon points="1294.30,220.90 1300.40,230.90 1288.20,230.90" fill="#ef7d00" stroke="#1a1a1a" stroke-width="2.20" stroke-linejoin="miter"/>
<polygon points="1342.70,208.10 1348.80,218.10 1336.60,218.10" fill="#ef7d00" stroke="#1a1a1a" stroke-width="2.20" stroke-linejoin="miter"/>
<polygon points="1391.10,201.90 1397.20,211.90 1385.00,211.90" fill="#ef7d00" stroke="#1a1a1a" stroke-width="2.20" stroke-linejoin="miter"/>
<polygon points="1439.50,211.40 1445.60,221.40 1433.40,221.40" fill="#ef7d00" stroke="#1a1a1a" stroke-width="2.20" stroke-linejoin="miter"/>
<polygon points="1487.90,207.90 1494.00,217.90 1481.80,217.90" fill="#ef7d00" stroke="#1a1a1a" stroke-width="2.20" stroke-linejoin="miter"/>
<line x1="1294.30" y1="196.50" x2="1294.30" y2="228.50" stroke="#333" stroke-width="1.6"/>
<line x1="1288.30" y1="196.50" x2="1300.30" y2="196.50" stroke="#333" stroke-width="1.7"/>
<line x1="1288.30" y1="228.50" x2="1300.30" y2="228.50" stroke="#333" stroke-width="1.7"/>
<line x1="1342.70" y1="137.50" x2="1342.70" y2="191.50" stroke="#333" stroke-width="1.6"/>
<line x1="1336.70" y1="137.50" x2="1348.70" y2="137.50" stroke="#333" stroke-width="1.7"/>
<line x1="1336.70" y1="191.50" x2="1348.70" y2="191.50" stroke="#333" stroke-width="1.7"/>
<line x1="1391.10" y1="111.70" x2="1391.10" y2="191.70" stroke="#333" stroke-width="1.6"/>
<line x1="1385.10" y1="111.70" x2="1397.10" y2="111.70" stroke="#333" stroke-width="1.7"/>
<line x1="1385.10" y1="191.70" x2="1397.10" y2="191.70" stroke="#333" stroke-width="1.7"/>
<line x1="1439.50" y1="181.80" x2="1439.50" y2="220.80" stroke="#333" stroke-width="1.6"/>
<line x1="1433.50" y1="181.80" x2="1445.50" y2="181.80" stroke="#333" stroke-width="1.7"/>
<line x1="1433.50" y1="220.80" x2="1445.50" y2="220.80" stroke="#333" stroke-width="1.7"/>
<line x1="1487.90" y1="143.20" x2="1487.90" y2="213.80" stroke="#333" stroke-width="1.6"/>
<line x1="1481.90" y1="143.20" x2="1493.90" y2="143.20" stroke="#333" stroke-width="1.7"/>
<line x1="1481.90" y1="213.80" x2="1493.90" y2="213.80" stroke="#333" stroke-width="1.7"/>
<polyline points="1245.90,210.50 1294.30,212.50 1342.70,164.50 1391.10,151.70 1439.50,201.30 1487.90,178.50" fill="none" stroke="#1a1a1a" stroke-width="2.5" stroke-linejoin="round"/>
<rect x="1240.40" y="205.00" width="11.00" height="11.00" fill="#4677c2" stroke="#1a1a1a" stroke-width="2.20"/>
<rect x="1288.80" y="207.00" width="11.00" height="11.00" fill="#4677c2" stroke="#1a1a1a" stroke-width="2.20"/>
<rect x="1337.20" y="159.00" width="11.00" height="11.00" fill="#4677c2" stroke="#1a1a1a" stroke-width="2.20"/>
<rect x="1385.60" y="146.20" width="11.00" height="11.00" fill="#4677c2" stroke="#1a1a1a" stroke-width="2.20"/>
<rect x="1434.00" y="195.80" width="11.00" height="11.00" fill="#4677c2" stroke="#1a1a1a" stroke-width="2.20"/>
<rect x="1482.40" y="173.00" width="11.00" height="11.00" fill="#4677c2" stroke="#1a1a1a" stroke-width="2.20"/>
<line x1="1294.30" y1="208.40" x2="1294.30" y2="238.40" stroke="#333" stroke-width="1.6"/>
<line x1="1288.30" y1="208.40" x2="1300.30" y2="208.40" stroke="#333" stroke-width="1.7"/>
<line x1="1288.30" y1="238.40" x2="1300.30" y2="238.40" stroke="#333" stroke-width="1.7"/>
<line x1="1342.70" y1="187.50" x2="1342.70" y2="220.50" stroke="#333" stroke-width="1.6"/>
<line x1="1336.70" y1="187.50" x2="1348.70" y2="187.50" stroke="#333" stroke-width="1.7"/>
<line x1="1336.70" y1="220.50" x2="1348.70" y2="220.50" stroke="#333" stroke-width="1.7"/>
<line x1="1391.10" y1="197.40" x2="1391.10" y2="225.40" stroke="#333" stroke-width="1.6"/>
<line x1="1385.10" y1="197.40" x2="1397.10" y2="197.40" stroke="#333" stroke-width="1.7"/>
<line x1="1385.10" y1="225.40" x2="1397.10" y2="225.40" stroke="#333" stroke-width="1.7"/>
<line x1="1439.50" y1="218.80" x2="1439.50" y2="242.80" stroke="#333" stroke-width="1.6"/>
<line x1="1433.50" y1="218.80" x2="1445.50" y2="218.80" stroke="#333" stroke-width="1.7"/>
<line x1="1433.50" y1="242.80" x2="1445.50" y2="242.80" stroke="#333" stroke-width="1.7"/>
<line x1="1487.90" y1="191.80" x2="1487.90" y2="219.80" stroke="#333" stroke-width="1.6"/>
<line x1="1481.90" y1="191.80" x2="1493.90" y2="191.80" stroke="#333" stroke-width="1.7"/>
<line x1="1481.90" y1="219.80" x2="1493.90" y2="219.80" stroke="#333" stroke-width="1.7"/>
<polyline points="1245.90,210.50 1294.30,223.40 1342.70,204.00 1391.10,211.40 1439.50,230.80 1487.90,205.80" fill="none" stroke="#1a1a1a" stroke-width="2.5" stroke-linejoin="round"/>
<circle cx="1245.90" cy="210.50" r="5.40" fill="#fff" stroke="#1a1a1a" stroke-width="2.20"/>
<circle cx="1294.30" cy="223.40" r="5.40" fill="#fff" stroke="#1a1a1a" stroke-width="2.20"/>
<circle cx="1342.70" cy="204.00" r="5.40" fill="#fff" stroke="#1a1a1a" stroke-width="2.20"/>
<circle cx="1391.10" cy="211.40" r="5.40" fill="#fff" stroke="#1a1a1a" stroke-width="2.20"/>
<circle cx="1439.50" cy="230.80" r="5.40" fill="#fff" stroke="#1a1a1a" stroke-width="2.20"/>
<circle cx="1487.90" cy="205.80" r="5.40" fill="#fff" stroke="#1a1a1a" stroke-width="2.20"/>
<text transform="translate(144.70,261.10) scale(0.95,1.2)" text-anchor="middle" font-size="15" fill="#3d7bcc" stroke="#3d7bcc" stroke-width="0.25">^</text>
<text transform="translate(152.80,261.10) scale(0.95,1.2)" text-anchor="middle" font-size="15" fill="#7a1f80" stroke="#7a1f80" stroke-width="0.25">^</text>
<text x="197.70" y="259.80" text-anchor="middle" font-size="16" fill="#7a1f80" stroke="#7a1f80" stroke-width="0.3">*</text>
<text transform="translate(245.70,239.50) scale(0.95,1.2)" text-anchor="middle" font-size="15" fill="#3d7bcc" stroke="#3d7bcc" stroke-width="0.25">^</text>
<text x="291.30" y="241.40" text-anchor="middle" font-size="14.5" fill="#3d7bcc">*</text>
<text x="297.50" y="241.40" text-anchor="middle" font-size="14.5" fill="#7a1f80">*</text>
<text transform="translate(294.30,253.60) scale(0.95,1.2)" text-anchor="middle" font-size="15" fill="#7a1f80" stroke="#7a1f80" stroke-width="0.25">^</text>
<text x="340.40" y="232.90" text-anchor="middle" font-size="14.5" fill="#3d7bcc">*</text>
<text x="346.60" y="232.90" text-anchor="middle" font-size="14.5" fill="#7a1f80">*</text>
<text transform="translate(343.40,245.00) scale(0.95,1.2)" text-anchor="middle" font-size="15" fill="#7a1f80" stroke="#7a1f80" stroke-width="0.25">^</text>
<text x="725.30" y="237.30" text-anchor="middle" font-size="15" fill="#7a1f80" stroke="#7a1f80" stroke-width="0.2">+</text>
<text transform="translate(712.40,262.30) scale(0.95,1.2)" text-anchor="middle" font-size="15" fill="#7a1f80" stroke="#7a1f80" stroke-width="0.25">^</text>
<text x="616.00" y="278.70" text-anchor="middle" font-size="16" fill="#7a1f80" stroke="#7a1f80" stroke-width="0.3">*</text>
<text x="1112.80" y="297.60" text-anchor="middle" font-size="15" fill="#7a1f80" stroke="#7a1f80" stroke-width="0.2">+</text>
<text transform="translate(1389.50,75.60) scale(0.95,1.2)" text-anchor="middle" font-size="15" fill="#7a1f80" stroke="#7a1f80" stroke-width="0.25">^</text>
<text x="1389.50" y="85.80" text-anchor="middle" font-size="16" fill="#7a1f80" stroke="#7a1f80" stroke-width="0.3">*</text>
<text transform="translate(1439.40,121.60) scale(0.95,1.2)" text-anchor="middle" font-size="15" fill="#7a1f80" stroke="#7a1f80" stroke-width="0.25">^</text>
<text x="1439.40" y="130.00" text-anchor="middle" font-size="16" fill="#7a1f80" stroke="#7a1f80" stroke-width="0.3">*</text>
<text transform="translate(1488.60,85.70) scale(0.95,1.2)" text-anchor="middle" font-size="15" fill="#7a1f80" stroke="#7a1f80" stroke-width="0.25">^</text>
<text x="1488.60" y="95.80" text-anchor="middle" font-size="16" fill="#7a1f80" stroke="#7a1f80" stroke-width="0.3">*</text>
<text x="1502.00" y="121.40" text-anchor="middle" font-size="15" fill="#7a1f80" stroke="#7a1f80" stroke-width="0.2">+</text>
<line x1="522.8" y1="262.1" x2="714.8" y2="262.1" stroke="#1a1a1a" stroke-width="2.4"/>
<text class="k" transform="translate(14.9,199.15) rotate(-90)" text-anchor="middle" font-size="20.3">Fasting glucose</text>
<text class="k" transform="translate(40.4,198.3) rotate(-90)" text-anchor="middle" font-size="20.3">(% Baseline)</text>
<text class="k" transform="translate(407.8,203.75) rotate(-90)" text-anchor="middle" font-size="20.3">HbA1c (% Baseline)</text>
<text class="k" transform="translate(792.8,204.4) rotate(-90)" text-anchor="middle" font-size="20.3">LDL (% Baseline)</text>
<text class="k" transform="translate(1186.0,204.2) rotate(-90)" text-anchor="middle" font-size="20.3">HDL (% Baseline)</text>
<line x1="1575.5" y1="144" x2="1617.5" y2="144" stroke="#1a1a1a" stroke-width="4" stroke-linecap="round"/>
<circle cx="1596.6" cy="144" r="8.1" fill="#fff" stroke="#1a1a1a" stroke-width="4"/>
<line x1="1575.5" y1="203.4" x2="1620" y2="203.4" stroke="#1a1a1a" stroke-width="4" stroke-linecap="round"/>
<rect x="1588.2" y="194.4" width="19.6" height="18.2" fill="#4677c2" stroke="#1a1a1a" stroke-width="4"/>
<line x1="1578" y1="261.6" x2="1620.5" y2="261.6" stroke="#1a1a1a" stroke-width="4" stroke-linecap="round"/>
<polygon points="1599.4,251.6 1609.1,271.1 1589.7,271.1" fill="#ef7d00" stroke="#1a1a1a" stroke-width="4.4"/>
<line x1="1579" y1="322" x2="1620.5" y2="322" stroke="#7a2a84" stroke-width="4" stroke-linecap="round"/>
<polygon points="1599.6,312.9 1608.7,321.8 1599.6,330.7 1590.5,321.8" fill="#7a2482" stroke="#1a1a1a" stroke-width="4"/>
<text class="k2" x="1631.5" y="155.2" font-size="31.5">Vehicle</text>
<text class="k2" x="1634.5" y="215.2" font-size="31.5">Sema</text>
<text class="k" x="1634.5" y="270.1" font-size="34.0" font-style="italic" style='font-family:"Liberation Serif", "Times New Roman", serif'>α</text>
<text class="k2" x="1653.5" y="270.1" font-size="31.5">-MSTN</text>
<text class="k2" x="1758.5" y="270.1" font-size="31.5">+</text>
<text class="k" x="1785.2" y="270.1" font-size="34.0" font-style="italic" style='font-family:"Liberation Serif", "Times New Roman", serif'>α</text>
<text class="k2" x="1804.5" y="270.1" font-size="31.5">-ActA</text>
<text class="k2" x="1632.8" y="333.9" font-size="31.5">Sema</text>
<text class="k2" x="1723.5" y="333.9" font-size="31.5">+</text>
<text class="k" x="1749.3" y="333.9" font-size="34.0" font-style="italic" style='font-family:"Liberation Serif", "Times New Roman", serif'>α</text>
<text class="k2" x="1768.7" y="333.9" font-size="31.5">-MSTN</text>
<text class="k2" x="1873.7" y="333.9" font-size="31.5">+</text>
<text class="k" x="1900.3" y="333.9" font-size="34.0" font-style="italic" style='font-family:"Liberation Serif", "Times New Roman", serif'>α</text>
<text class="k2" x="1919.8" y="333.9" font-size="31.5">-ActA</text>
</g>
</svg>
</body></html>
